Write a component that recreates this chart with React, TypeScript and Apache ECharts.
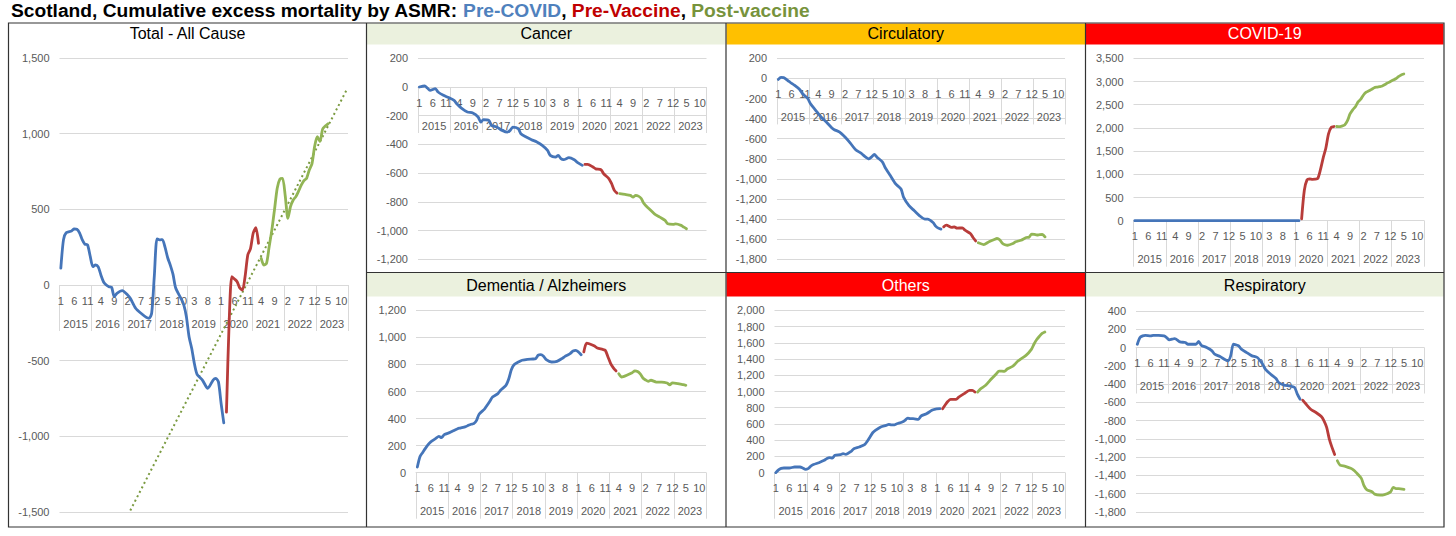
import React, { useEffect, useRef } from 'react';
import * as echarts from 'echarts';

// categories: one per month, Jan 2015 .. Dec 2023
const years = ['2015', '2016', '2017', '2018', '2019', '2020', '2021', '2022', '2023'];
const monthNumbers = ['1', '2', '3', '4', '5', '6', '7', '8', '9', '10', '11', '12'];
const months = years.flatMap((y) => monthNumbers.map((m) => `${y}-${m}`));

// [month index from Jan 2015, cumulative excess deaths]
const totalPre = [
  [0, 112], [1, 300], [2, 345], [4, 357], [5, 370], [6, 368], [7, 345], [8, 300], [9, 270], [10, 265],
  [11, 190], [12, 121], [13, 132], [14, 120], [15, 66], [16, 20], [17, 0], [18, -11], [19, -15], [20, -77],
  [21, -55], [23, -37], [25, -66], [26, -88], [28, -154], [30, -187], [32, -214], [33, -220], [34, -187],
  [35, 60], [36, 305], [37, 298], [38, 300], [39, 250], [40, 180], [41, 130], [42, 70], [43, -20], [45, -90],
  [46, -130], [47, -210], [48, -342], [49, -420], [50, -520], [51, -590], [53, -628], [55, -683], [57, -628],
  [58, -617], [59, -640], [60, -783], [61, -911],
];
const totalVac = [
  [62, -840], [63, -250], [64, 55], [65, 40], [66, 22], [67, -20], [68, -33], [69, 60], [70, 200], [71, 240],
  [72, 342], [73, 379], [74, 276],
];
const totalPost = [
  [75, 176], [76, 132], [77, 143], [78, 254], [79, 364], [80, 500], [81, 640], [82, 700], [83, 705], [84, 590],
  [85, 440], [86, 520], [87, 562], [88, 584], [89, 620], [90, 660], [91, 690], [92, 705], [93, 760], [94, 800],
  [95, 915], [96, 980], [97, 948], [98, 1030], [99, 1050], [100, 1065],
];
const totalTrend = [[26, -1490], [107, 1290]];

const cancerPre = [
  [0, 0], [2, 7], [3, -7], [4, -23], [6, -11], [7, -35], [9, -58], [11, -74], [13, -93], [14, -116], [16, -151],
  [18, -174], [20, -181], [22, -209], [23, -244], [24, -227], [26, -232], [27, -267], [29, -279], [31, -302],
  [33, -314], [34, -302], [35, -279], [37, -290], [38, -325], [40, -348], [42, -367], [44, -383], [46, -406],
  [48, -441], [49, -476], [51, -488], [52, -476], [53, -499], [54, -506], [56, -492], [58, -506], [59, -523],
  [61, -546],
];
const cancerVac = [
  [62, -539], [63, -539], [65, -557], [66, -570], [68, -576], [69, -604], [71, -639], [72, -674], [73, -720],
  [74, -739],
];
const cancerPost = [
  [75, -743], [77, -748], [79, -755], [80, -767], [81, -755], [82, -760], [83, -775], [84, -810], [85, -830],
  [86, -848], [88, -883], [90, -906], [92, -929], [93, -953], [95, -957], [96, -953], [98, -964], [99, -976],
  [100, -987],
];

const circPre = [
  [0, -10], [1, 10], [2, 8], [4, -30], [5, -50], [6, -67], [8, -110], [9, -150], [11, -200], [12, -250],
  [14, -317], [16, -384], [18, -434], [20, -490], [21, -510], [23, -534], [25, -584], [27, -644], [29, -710],
  [31, -744], [32, -767], [34, -800], [35, -780], [36, -757], [37, -784], [39, -830], [40, -884], [42, -967],
  [44, -1050], [46, -1100], [47, -1184], [49, -1267], [51, -1317], [53, -1367], [55, -1400], [56, -1400],
  [58, -1434], [59, -1470], [60, -1490], [61, -1500],
];
const circVac = [
  [62, -1477], [63, -1460], [65, -1483], [66, -1477], [67, -1490], [69, -1487], [70, -1510], [72, -1543],
  [73, -1583], [74, -1617],
];
const circPost = [
  [75, -1636], [77, -1653], [79, -1626], [81, -1603], [82, -1593], [83, -1605], [84, -1640], [85, -1655],
  [86, -1660], [88, -1643], [89, -1626], [91, -1610], [93, -1583], [94, -1580], [95, -1550], [96, -1553],
  [97, -1558], [98, -1555], [99, -1553], [100, -1577],
];

const covidPre = [[0, 0], [12, 0], [24, 0], [36, 0], [48, 0], [61, 0]];
const covidVac = [
  [62, 40], [63, 650], [64, 880], [65, 899], [66, 892], [67, 895], [68, 910], [69, 1100], [70, 1350],
  [71, 1560], [72, 1870], [73, 2010], [74, 2030],
];
const covidPost = [
  [75, 2030], [76, 2026], [77, 2040], [78, 2062], [79, 2150], [80, 2300], [81, 2390], [82, 2457], [83, 2560],
  [84, 2620], [85, 2709], [86, 2770], [87, 2800], [88, 2830], [89, 2866], [90, 2880], [91, 2890], [92, 2903],
  [93, 2935], [94, 2970], [95, 3000], [96, 3030], [97, 3060], [98, 3103], [99, 3140], [100, 3161],
];

const dementiaPre = [
  [0, 42], [1, 120], [2, 150], [3, 180], [4, 207], [5, 228], [7, 255], [8, 269], [9, 259], [10, 281],
  [12, 296], [13, 306], [15, 325], [16, 330], [18, 340], [19, 350], [20, 358], [21, 362], [22, 385], [23, 432],
  [25, 470], [26, 498], [27, 528], [28, 559], [30, 584], [31, 609], [33, 645], [34, 690], [35, 760], [36, 798],
  [38, 822], [39, 831], [41, 838], [43, 840], [44, 842], [45, 868], [46, 872], [47, 860], [48, 835], [50, 818],
  [52, 823], [54, 845], [55, 860], [56, 870], [57, 882], [58, 899], [59, 904], [60, 892], [61, 872],
];
const dementiaVac = [
  [62, 892], [63, 958], [64, 953], [66, 936], [67, 921], [69, 911], [70, 904], [71, 855], [72, 806],
  [73, 775], [74, 752],
];
const dementiaPost = [
  [75, 732], [76, 707], [77, 712], [78, 720], [80, 739], [81, 752], [82, 748], [83, 730], [84, 700],
  [85, 685], [86, 675], [87, 683], [89, 670], [91, 670], [93, 663], [94, 650], [95, 663], [97, 658],
  [99, 650], [100, 646],
];

const othersPre = [
  [0, 0], [1, 35], [2, 54], [3, 58], [5, 58], [7, 70], [9, 70], [10, 58], [11, 42], [12, 50], [13, 80],
  [14, 100], [16, 123], [18, 152], [19, 175], [20, 185], [21, 181], [22, 214], [24, 222], [25, 234],
  [26, 226], [28, 263], [29, 296], [31, 316], [33, 345], [34, 387], [35, 439], [36, 492], [37, 520],
  [39, 563], [41, 583], [42, 596], [43, 588], [44, 590], [45, 603], [47, 624], [48, 645], [49, 673],
  [50, 665], [51, 665], [53, 657], [54, 698], [56, 726], [58, 768], [59, 780], [61, 788],
];
const othersVac = [
  [62, 788], [63, 837], [64, 879], [65, 904], [67, 904], [68, 930], [70, 973], [72, 1014], [73, 1014],
  [74, 993],
];
const othersPost = [
  [75, 993], [76, 1030], [78, 1076], [80, 1150], [82, 1219], [83, 1252], [85, 1248], [86, 1277], [88, 1310],
  [89, 1340], [90, 1375], [91, 1400], [93, 1445], [95, 1519], [96, 1585], [97, 1640], [98, 1680], [99, 1715],
  [100, 1732],
];

const respPre = [
  [0, 36], [1, 109], [2, 128], [3, 134], [5, 128], [6, 134], [8, 134], [10, 128], [11, 109], [12, 84],
  [13, 91], [14, 98], [16, 62], [18, 55], [19, 36], [21, 36], [22, 36], [23, 66], [24, 25], [26, 0],
  [28, -36], [29, -73], [31, -98], [33, -134], [34, -145], [35, -91], [36, 36], [37, 29], [38, 18],
  [39, -18], [41, -55], [43, -91], [45, -109], [47, -182], [48, -237], [50, -292], [52, -339], [53, -383],
  [55, -412], [57, -419], [58, -426], [59, -437], [60, -510], [61, -565],
];
const respVac = [
  [62, -576], [63, -610], [65, -675], [67, -711], [69, -755], [70, -802], [71, -874], [72, -1002],
  [73, -1093], [74, -1170],
];
const respPost = [
  [75, -1239], [76, -1286], [78, -1300], [80, -1322], [81, -1340], [82, -1366], [84, -1432], [85, -1512],
  [86, -1556], [88, -1578], [89, -1604], [91, -1615], [92, -1615], [94, -1596], [95, -1578], [96, -1530],
  [97, -1545], [98, -1545], [100, -1552],
];

const BLUE = '#4575b9';
const RED = '#b83c3a';
const GREEN = '#92b555';
const TREND = '#7a9a40';
const GRID_GREY = '#d9d9d9';
const LABEL_GREY = '#595959';
const FONT = '"Liberation Sans", Arial, sans-serif';

const panels = [
  {
    title: 'Total - All Cause', band: '', ink: '#000', box: [8.5, 23, 366.5, 527], titleY: 33.5, bandH: 0,
    left: 59.5, top: 58, width: 288.5, height: 454, min: -1500, max: 1500, step: 500,
    pre: totalPre, vac: totalVac, post: totalPost,
  },
  {
    title: 'Cancer', band: '#ebf1de', ink: '#000', box: [366.5, 23, 726, 272.5], titleY: 33.8, bandH: 21,
    left: 418, top: 58.3, width: 288.5, height: 201, min: -1200, max: 200, step: 200,
    pre: cancerPre, vac: cancerVac, post: cancerPost,
  },
  {
    title: 'Circulatory', band: '#ffc000', ink: '#000', box: [726, 23, 1085.5, 272.5], titleY: 33.8, bandH: 21,
    left: 777, top: 58.3, width: 288, height: 201, min: -1800, max: 200, step: 200,
    pre: circPre, vac: circVac, post: circPost,
  },
  {
    title: 'COVID-19', band: '#ff0000', ink: '#fff', box: [1085.5, 23, 1444, 272.5], titleY: 33.8, bandH: 21,
    left: 1133.5, top: 58.3, width: 290.5, height: 162.4, min: 0, max: 3500, step: 500,
    pre: covidPre, vac: covidVac, post: covidPost,
  },
  {
    title: 'Dementia / Alzheimers', band: '#ebf1de', ink: '#000', box: [366.5, 272.5, 726, 527], titleY: 285.5, bandH: 23.5,
    left: 416, top: 310.3, width: 290, height: 162.4, min: 0, max: 1200, step: 200,
    pre: dementiaPre, vac: dementiaVac, post: dementiaPost,
  },
  {
    title: 'Others', band: '#ff0000', ink: '#fff', box: [726, 272.5, 1085.5, 527], titleY: 285.5, bandH: 23.5,
    left: 774.5, top: 310.3, width: 290.5, height: 162.4, min: 0, max: 2000, step: 200,
    pre: othersPre, vac: othersVac, post: othersPost,
  },
  {
    title: 'Respiratory', band: '#ebf1de', ink: '#000', box: [1085.5, 272.5, 1444, 527], titleY: 285.5, bandH: 23.5,
    left: 1136, top: 311, width: 288, height: 201, min: -1800, max: 400, step: 200,
    pre: respPre, vac: respVac, post: respPost,
  },
];

const fmt = (v: number) => v.toLocaleString('en-US');

const axisText = { fontSize: 11, fontFamily: FONT, color: LABEL_GREY };

function buildOption() {
  const grid = panels.map((p) => ({
    left: p.left, top: p.top, width: p.width, height: p.height,
    containLabel: false, outerBoundsMode: 'none',
  }));

  const xAxis = panels.flatMap((p, i) => {
    // Excel puts the category axis on the zero line, so lift it there
    const lift = -(p.height * (0 - p.min)) / (p.max - p.min);
    return [
      {
        type: 'category', gridIndex: i, data: months, position: 'bottom', offset: lift, boundaryGap: true,
        axisLine: { show: true, onZero: false, lineStyle: { color: GRID_GREY, width: 1 } },
        axisTick: { show: false },
        splitLine: { show: false },
        axisLabel: {
          ...axisText, interval: 4, margin: 10, hideOverlap: false,
          formatter: (v: string) => v.split('-')[1],
        },
      },
      {
        type: 'category', gridIndex: i, data: years, position: 'bottom', offset: lift, boundaryGap: true,
        axisLine: { show: false, onZero: false },
        axisTick: { show: true, interval: 0, length: 46, lineStyle: { color: GRID_GREY, width: 1 } },
        splitLine: { show: false },
        axisLabel: { ...axisText, interval: 0, margin: 33, hideOverlap: false },
      },
    ];
  });

  const yAxis = panels.map((p, i) => ({
    type: 'value', gridIndex: i, min: p.min, max: p.max, interval: p.step,
    axisLine: { show: false }, axisTick: { show: false },
    splitLine: { show: true, lineStyle: { color: GRID_GREY, width: 1 } },
    axisLabel: { ...axisText, margin: 10, formatter: fmt },
  }));

  const series: any[] = [
    {
      type: 'line', name: 'trend', xAxisIndex: 0, yAxisIndex: 0, data: totalTrend,
      symbol: 'none', lineStyle: { color: TREND, width: 2, type: [2, 3] }, z: 1,
    },
  ];
  panels.forEach((p, i) => {
    const parts: [number[][], string][] = [[p.pre, BLUE], [p.vac, RED], [p.post, GREEN]];
    parts.forEach(([data, color]) => {
      series.push({
        type: 'line', xAxisIndex: i * 2, yAxisIndex: i, data,
        symbol: 'none', smooth: 0.25, z: 3,
        lineStyle: { color, width: 2.8, cap: 'round', join: 'round' },
      });
    });
  });

  const graphic: any[] = [];
  panels.forEach((p) => {
    const [x0, y0, x1] = p.box;
    if (p.band) {
      graphic.push({
        type: 'rect', silent: true, z: 0,
        shape: { x: x0 + 0.5, y: y0 + 0.5, width: x1 - x0 - 1, height: p.bandH },
        style: { fill: p.band },
      });
    }
    graphic.push({
      type: 'text', silent: true, z: 5, x: (x0 + x1) / 2, y: p.titleY,
      style: {
        text: p.title, fill: p.ink, fontSize: 16, fontFamily: FONT,
        align: 'center', verticalAlign: 'middle',
      },
    });
  });
  const frame = { stroke: '#333', lineWidth: 1.2 };
  graphic.push(
    { type: 'rect', silent: true, z: 6, shape: { x: 8.5, y: 23, width: 1435.5, height: 504 }, style: { ...frame, fill: 'none' } },
    { type: 'line', silent: true, z: 6, shape: { x1: 366.5, y1: 23, x2: 366.5, y2: 527 }, style: frame },
    { type: 'line', silent: true, z: 6, shape: { x1: 726, y1: 23, x2: 726, y2: 527 }, style: frame },
    { type: 'line', silent: true, z: 6, shape: { x1: 1085.5, y1: 23, x2: 1085.5, y2: 527 }, style: frame },
    { type: 'line', silent: true, z: 6, shape: { x1: 366.5, y1: 272.5, x2: 1444, y2: 272.5 }, style: frame },
  );

  const head = { fontFamily: FONT, fontWeight: 'bold' as const, fontSize: 19.2 };

  return {
    animation: false,
    backgroundColor: '#ffffff',
    title: {
      left: 11, top: 1, padding: 0,
      text: '{k|Scotland, Cumulative excess mortality by ASMR: }{b|Pre-COVID}{k|, }{r|Pre-Vaccine}{k|, }{g|Post-vaccine}',
      textStyle: {
        rich: {
          k: { ...head, color: '#000' },
          b: { ...head, color: '#4f81bd' },
          r: { ...head, color: '#c00000' },
          g: { ...head, color: '#77933c' },
        },
      },
    },
    grid,
    xAxis,
    yAxis,
    series,
    graphic: { elements: graphic },
  };
}

export default function App() {
  const chartRef = useRef<HTMLDivElement>(null);

  useEffect(() => {
    if (!chartRef.current) return;
    const chart = echarts.init(chartRef.current, undefined, { renderer: 'svg' });
    chart.setOption(buildOption() as any);
    return () => {
      chart.dispose();
    };
  }, []);

  return (
    <div
      ref={chartRef}
      style={{ position: 'fixed', left: 0, top: 0, width: 1456, height: 536, background: '#fff' }}
    />
  );
}
